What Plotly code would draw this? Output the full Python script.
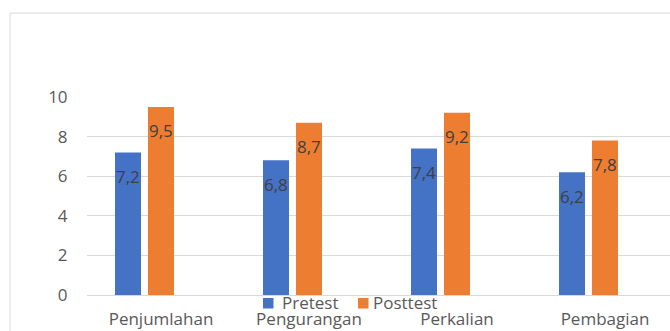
import plotly.graph_objects as go

categories = ["Penjumlahan", "Pengurangan", "Perkalian", "Pembagian"]
pretest = [7.2, 6.8, 7.4, 6.2]
posttest = [9.5, 8.7, 9.2, 7.8]
series_names = ["Pretest", "Posttest"]
colors = ["#4472C4", "#ED7D31"]
y_ticks = [0, 2, 4, 6, 8, 10]

def fmt(v):
    return f"{v:.1f}".replace(".", ",")

W, H = 670, 331
L, R, T, B = 87, 670, 97, 295
CAT = 148.0            # pixel width of one category band
FONT = "Open Sans"
FS = 17

BAR_W = 26 / CAT
offsets = [-46 / CAT, -13 / CAT]      # bars sit left of the category centre
label_shift = [-33, 0]

fig = go.Figure()
for name, vals, col, off in zip(series_names, [pretest, posttest], colors, offsets):
    fig.add_trace(go.Bar(
        name=name, x=categories, y=vals, marker_color=col,
        marker_line_width=0, showlegend=False,
        width=BAR_W, offset=off,
    ))

# data labels (inside end)
for vals, shift in zip([pretest, posttest], label_shift):
    for c, v in zip(categories, vals):
        fig.add_annotation(x=c, y=v, text=fmt(v), showarrow=False,
                           xshift=shift, yshift=-24,
                           font=dict(family=FONT, size=FS, color="#404040"))

py = lambda p: (B - p) / (B - T)
px = lambda p: (p - L) / (R - L)

# chart frame
fig.add_shape(type="rect", xref="paper", yref="paper",
              x0=px(10), x1=px(700), y0=py(400), y1=py(13),
              line=dict(color="#D9D9D9", width=1), layer="below")

# legend (swatch + text)
legend_pos = [(263, 280), (358, 371)]
for name, col, (sx, tx) in zip(series_names, colors, legend_pos):
    fig.add_shape(type="rect", xref="paper", yref="paper",
                  x0=px(sx), x1=px(sx + 10.5), y0=py(308.5), y1=py(298),
                  line=dict(width=0), fillcolor=col)
    fig.add_annotation(xref="paper", yref="paper", x=px(tx), y=py(302.5),
                       xanchor="left", yanchor="middle", showarrow=False,
                       text=name, font=dict(family=FONT, size=FS, color="#595959"))

fig.update_layout(
    width=W, height=H,
    margin=dict(l=L, r=W - R, t=T, b=H - B, pad=0, autoexpand=False),
    paper_bgcolor="white", plot_bgcolor="white",
    barmode="overlay",
    showlegend=False,
    font=dict(family=FONT, color="#595959"),
)
fig.update_xaxes(range=[-0.5, -0.5 + (R - L) / CAT], showgrid=False,
                 showline=False, zeroline=False, automargin=False,
                 tickfont=dict(family=FONT, size=FS, color="#595959"),
                 ticks="outside", ticklen=9, tickcolor="rgba(0,0,0,0)")
fig.update_yaxes(range=[0, 10], tickvals=y_ticks, showgrid=True,
                 gridcolor="#D9D9D9", gridwidth=1, zeroline=True,
                 zerolinecolor="#D9D9D9", zerolinewidth=1, showline=False,
                 automargin=False,
                 tickfont=dict(family=FONT, size=FS, color="#595959"),
                 ticks="outside", ticklen=15, tickcolor="rgba(0,0,0,0)")

fig.write_html("out.html")
